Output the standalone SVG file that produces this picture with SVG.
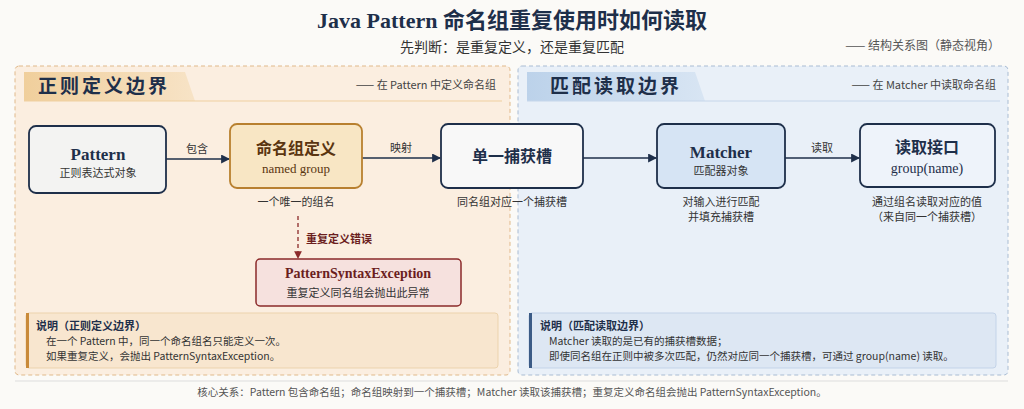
<svg xmlns="http://www.w3.org/2000/svg" width="1024" height="409" viewBox="0 0 1024 409">
<defs>
<style>
.s{font-family:"Liberation Serif","Noto Sans CJK SC",serif}
.t{font-family:"Noto Sans CJK SC","Liberation Sans",sans-serif}
.node{stroke:#1e2f4a;stroke-width:1.8}
.conn{stroke:#1e2f4a;stroke-width:1.5;fill:none}
</style>
<marker id="ah" viewBox="0 0 8 8" refX="7" refY="4" markerWidth="6" markerHeight="6" orient="auto"><path d="M0,0L8,4L0,8z" fill="#1e2f4a"/></marker>
<marker id="ahr" viewBox="0 0 8 8" refX="7" refY="4" markerWidth="6" markerHeight="6" orient="auto"><path d="M0,0L8,4L0,8z" fill="#8b2a2a"/></marker>
<linearGradient id="lh" x1="0" x2="1"><stop offset="0" stop-color="#f0cf9c"/><stop offset="1" stop-color="#f7e3c6"/></linearGradient>
<linearGradient id="rh" x1="0" x2="1"><stop offset="0" stop-color="#bcd2ea"/><stop offset="1" stop-color="#d8e5f3"/></linearGradient>
</defs>
<rect width="1024" height="409" fill="#fbfaf7"/>
<text x="512" y="28" text-anchor="middle" class="s" font-size="22" font-weight="bold" fill="#1e2f4a">Java Pattern 命名组重复使用时如何读取</text>
<text x="512" y="52" text-anchor="middle" class="t" font-size="14" fill="#333">先判断：是重复定义，还是重复匹配</text>
<text x="1000" y="50" text-anchor="end" class="t" font-size="12" fill="#555">—— 结构关系图（静态视角）</text>

<g id="left-panel">
<rect x="15" y="66" width="495" height="309" rx="4" fill="#fbeee0" stroke="#e0b98a" stroke-dasharray="4 3"/>
<path d="M24,72H185L195,101H24z" fill="url(#lh)"/>
<line x1="24" y1="101" x2="502" y2="101" stroke="#efcf9f"/>
<text x="38" y="93" class="s" font-size="19" font-weight="bold" fill="#1e2f4a" letter-spacing="3">正则定义边界</text>
<text x="496" y="89" text-anchor="end" class="t" font-size="11" fill="#444">—— 在 Pattern 中定义命名组</text>
</g>
<g id="right-panel">
<rect x="518" y="66" width="490" height="309" rx="4" fill="#e9f0f8" stroke="#a9bcd3" stroke-dasharray="4 3"/>
<path d="M527,72H695L705,101H527z" fill="url(#rh)"/>
<line x1="527" y1="101" x2="1000" y2="101" stroke="#c6d6ea"/>
<text x="550" y="93" class="s" font-size="19" font-weight="bold" fill="#1e2f4a" letter-spacing="3">匹配读取边界</text>
<text x="996" y="89" text-anchor="end" class="t" font-size="11" fill="#444">—— 在 Matcher 中读取命名组</text>
</g>

<g id="connectors">
<line x1="166" y1="159" x2="229" y2="159" class="conn" marker-end="url(#ah)"/>
<text x="197" y="153" text-anchor="middle" class="t" font-size="11" fill="#333">包含</text>
<line x1="362" y1="158" x2="440" y2="158" class="conn" marker-end="url(#ah)"/>
<text x="401" y="152" text-anchor="middle" class="t" font-size="11" fill="#333">映射</text>
<line x1="583" y1="158" x2="656" y2="158" class="conn" marker-end="url(#ah)"/>
<line x1="785" y1="158" x2="859" y2="158" class="conn" marker-end="url(#ah)"/>
<text x="822" y="152" text-anchor="middle" class="t" font-size="11" fill="#333">读取</text>
<line x1="298" y1="216" x2="298" y2="258" stroke="#8b2a2a" stroke-width="1.3" stroke-dasharray="4 3" marker-end="url(#ahr)"/>
<text x="306" y="243" class="t" font-size="11" font-weight="bold" fill="#6b1e1e">重复定义错误</text>
</g>

<g id="n-pattern">
<rect x="29" y="126" width="137" height="67" rx="7" fill="#f3f3f2" class="node"/>
<text x="98" y="160" text-anchor="middle" class="s" font-size="17" font-weight="bold" fill="#1e2f4a">Pattern</text>
<text x="98" y="177" text-anchor="middle" class="t" font-size="11" fill="#333">正则表达式对象</text>
</g>
<g id="n-named">
<rect x="230" y="124" width="132" height="64" rx="7" fill="#f8e6c4" stroke="#b8802f" stroke-width="1.8"/>
<text x="296" y="154" text-anchor="middle" class="s" font-size="16" font-weight="bold" fill="#5a3510">命名组定义</text>
<text x="296" y="173" text-anchor="middle" class="s" font-size="13" fill="#5a3510">named group</text>
<text x="296" y="206" text-anchor="middle" class="t" font-size="11" fill="#333">一个唯一的组名</text>
</g>
<g id="n-slot">
<rect x="441" y="124" width="142" height="64" rx="7" fill="#f8f8f8" class="node"/>
<text x="512" y="162" text-anchor="middle" class="s" font-size="16" font-weight="bold" fill="#1e2f4a">单一捕获槽</text>
<text x="512" y="206" text-anchor="middle" class="t" font-size="11" fill="#333">同名组对应一个捕获槽</text>
</g>
<g id="n-matcher">
<rect x="657" y="124" width="128" height="64" rx="7" fill="#d6e4f4" class="node"/>
<text x="721" y="158" text-anchor="middle" class="s" font-size="17" font-weight="bold" fill="#1e2f4a">Matcher</text>
<text x="721" y="175" text-anchor="middle" class="t" font-size="11" fill="#333">匹配器对象</text>
<text x="721" y="206" text-anchor="middle" class="t" font-size="11" fill="#333">对输入进行匹配</text>
<text x="721" y="221" text-anchor="middle" class="t" font-size="11" fill="#333">并填充捕获槽</text>
</g>
<g id="n-read">
<rect x="860" y="124" width="135" height="63" rx="7" fill="#eef3fa" class="node"/>
<text x="927" y="153" text-anchor="middle" class="s" font-size="16" font-weight="bold" fill="#1e2f4a">读取接口</text>
<text x="927" y="173" text-anchor="middle" class="s" font-size="14" fill="#1e2f4a">group(name)</text>
<text x="927" y="206" text-anchor="middle" class="t" font-size="11" fill="#333">通过组名读取对应的值</text>
<text x="927" y="221" text-anchor="middle" class="t" font-size="11" fill="#333">（来自同一个捕获槽）</text>
</g>
<g id="n-exception">
<rect x="256" y="259" width="205" height="47" rx="4" fill="#f6e1de" stroke="#8b2a2a" stroke-width="1.5"/>
<text x="358" y="278" text-anchor="middle" class="s" font-size="14" font-weight="bold" fill="#6b1e1e">PatternSyntaxException</text>
<text x="358" y="297" text-anchor="middle" class="t" font-size="11" fill="#333">重复定义同名组会抛出此异常</text>
</g>
<g id="note-left">
<rect x="26" y="313" width="472" height="55" rx="3" fill="#f8e6cf" stroke="#ecd3ad"/>
<rect x="26" y="313" width="3" height="55" fill="#c98a3a"/>
<text x="36" y="330" class="t" font-size="11" font-weight="bold" fill="#1e2f4a">说明（正则定义边界）</text>
<text x="46" y="345" class="t" font-size="10.5" fill="#333">在一个 Pattern 中，同一个命名组名只能定义一次。</text>
<text x="46" y="360" class="t" font-size="10.5" fill="#333">如果重复定义，会抛出 PatternSyntaxException。</text>
</g>
<g id="note-right">
<rect x="529" y="313" width="467" height="55" rx="3" fill="#dde7f3" stroke="#c3d3e8"/>
<rect x="529" y="313" width="3" height="55" fill="#3b5b86"/>
<text x="540" y="330" class="t" font-size="11" font-weight="bold" fill="#1e2f4a">说明（匹配读取边界）</text>
<text x="549" y="345" class="t" font-size="10.5" fill="#333">Matcher 读取的是已有的捕获槽数据；</text>
<text x="549" y="360" class="t" font-size="10.5" fill="#333">即使同名组在正则中被多次匹配，仍然对应同一个捕获槽，可通过 group(name) 读取。</text>
</g>
<line x1="15" y1="381" x2="1008" y2="381" stroke="#ddd"/>
<text x="512" y="396" text-anchor="middle" class="t" font-size="10.5" fill="#555">核心关系：Pattern 包含命名组；命名组映射到一个捕获槽；Matcher 读取该捕获槽；重复定义命名组会抛出 PatternSyntaxException。</text>
</svg>
